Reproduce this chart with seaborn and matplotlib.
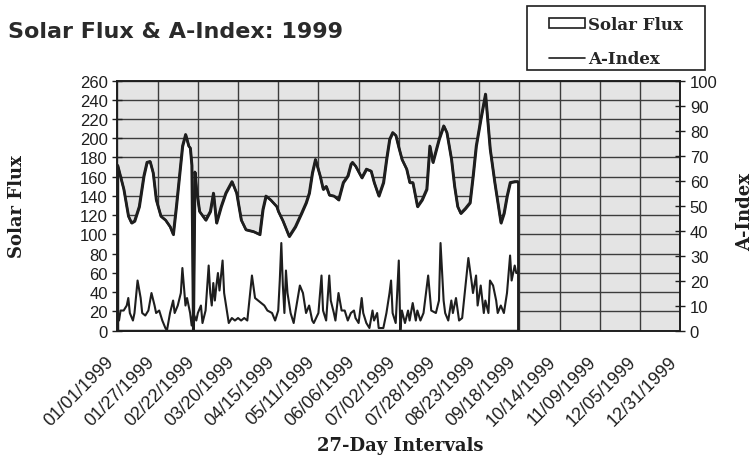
import numpy as np
import pandas as pd
import seaborn as sns
import matplotlib.pyplot as plt
from matplotlib.patches import Patch, Rectangle
from matplotlib.lines import Line2D

sns.set_style("white")
plt.rcParams['font.family'] = ['Liberation Sans', 'DejaVu Sans']

# days after 01/01/1999 and values
flux_day = [0, 4, 7, 9, 11, 14, 17, 19, 21, 23, 25, 28, 31, 34, 36, 38, 42, 44, 46,
            47, 48, 49, 50, 51, 53, 57, 60, 62, 64, 67, 70, 74, 77, 80, 83, 88, 92,
            94, 96, 99, 103, 104, 107, 111, 115, 119, 122, 124, 126, 128, 131, 133,
            135, 137, 140, 143, 146, 149, 151, 152, 154, 158, 161, 164, 166, 169,
            172, 174, 176, 178, 180, 182, 184, 187, 189, 191, 194, 197, 200, 202,
            204, 208, 211, 213, 216, 218, 220, 222, 225, 228, 230, 232, 235, 238,
            239, 241, 244, 246, 248, 250, 252, 254, 257, 259]
flux_val = [172, 147, 119, 112, 114, 129, 161, 175, 176, 164, 136, 119, 115, 108, 100,
            129, 192, 204, 192, 190, 172, 0, 165, 147, 124, 115, 124, 143, 112, 129,
            143, 155, 143, 115, 105, 103, 100, 126, 140, 136, 129, 124, 114, 98, 108,
            122, 133, 143, 164, 178, 161, 147, 150, 141, 140, 136, 154, 161, 173, 175,
            171, 159, 168, 166, 154, 140, 154, 178, 199, 206, 203, 190, 178, 168, 154,
            154, 129, 136, 147, 192, 175, 199, 213, 206, 178, 150, 129, 122, 127, 133,
            161, 192, 220, 246, 227, 189, 154, 133, 112, 122, 140, 154, 155, 155]

aidx_day = [0, 1, 2, 4, 6, 7, 8, 10, 11, 13, 15, 16, 18, 20, 22, 24, 25, 27, 29, 31,
            32, 34, 36, 37, 39, 41, 42, 44, 45, 47, 48, 49, 51, 52, 54, 55, 57, 59,
            60, 61, 62, 63, 64, 65, 66, 68, 69, 71, 72, 74, 76, 78, 80, 82, 84, 87,
            89, 91, 93, 95, 97, 100, 102, 104, 105, 106, 107, 108, 109, 110, 112,
            114, 115, 118, 120, 122, 124, 126, 127, 130, 132, 133, 135, 137, 138,
            140, 141, 143, 145, 147, 149, 151, 153, 154, 156, 158, 159, 161, 163,
            165, 166, 168, 169, 172, 174, 176, 177, 178, 180, 182, 183, 184, 186,
            188, 189, 191, 193, 194, 196, 198, 201, 203, 206, 208, 209, 211, 212,
            214, 216, 217, 219, 221, 223, 224, 226, 227, 229, 230, 232, 233, 235,
            237, 238, 240, 241, 243, 245, 246, 248, 250, 252, 254, 255, 257, 258, 259]
aidx_val = [7, 4, 8, 8, 10, 13, 7, 4, 7, 20, 13, 7, 6, 8, 15, 10, 7, 8, 4, 1,
            0, 7, 12, 7, 10, 15, 25, 10, 13, 7, 2, 7, 4, 7, 10, 3, 8, 26,
            15, 10, 19, 12, 18, 23, 16, 28, 15, 7, 3, 5, 4, 5, 4, 5, 4, 22,
            13, 12, 11, 10, 8, 7, 4, 8, 20, 35, 18, 7, 24, 15, 7,
            3, 7, 18, 15, 7, 10, 4, 3, 7, 22, 8, 4, 22, 12,
            7, 4, 15, 8, 8, 4, 7, 8, 5, 3, 13, 7, 3, 1,
            8, 4, 7, 1, 1, 7, 15, 20, 7, 3, 28, 0, 8, 3,
            8, 4, 11, 4, 8, 4, 7, 22, 8, 7, 12, 35, 12, 7,
            4, 12, 7, 13, 4, 5, 11, 23, 29, 20, 15, 22, 10, 18,
            7, 12, 7, 20, 18, 12, 7, 10, 7, 15, 30, 20, 26, 23, 23]

tick_labels = ["01/01/1999", "01/27/1999", "02/22/1999", "03/20/1999", "04/15/1999",
               "05/11/1999", "06/06/1999", "07/02/1999", "07/28/1999", "08/23/1999",
               "09/18/1999", "10/14/1999", "11/09/1999", "12/05/1999", "12/31/1999"]

start = pd.Timestamp("1999-01-01")
flux = pd.DataFrame({"date": start + pd.to_timedelta(flux_day, unit="D"), "flux": flux_val})
aidx = pd.DataFrame({"date": start + pd.to_timedelta(aidx_day, unit="D"), "aidx": aidx_val})
ticks = pd.to_datetime(tick_labels, format="%m/%d/%Y")

ink = "#1e1e1e"
serif = dict(family="DejaVu Serif", weight="bold", color=ink)

fig = plt.figure(figsize=(7.54, 4.6), dpi=100)
ax = fig.add_axes([0.1558, 0.2793, 0.7462, 0.5435])
ax.set_facecolor("#e4e4e4")
ax.set_axisbelow(True)
ax.grid(True, color="#3c3c3c", lw=1.0)

ax.fill_between(flux["date"], flux["flux"], 0, facecolor="white", edgecolor=ink, lw=1.8, zorder=2)
sns.lineplot(data=flux, x="date", y="flux", ax=ax, color=ink, lw=1.8, zorder=3)

ax2 = ax.twinx()
sns.lineplot(data=aidx, x="date", y="aidx", ax=ax2, color=ink, lw=1.5, zorder=4)

ax.set_xlim(ticks[0], ticks[-1])
ax.set_ylim(0, 260)
ax2.set_ylim(0, 100)
ax.set_yticks(np.arange(0, 261, 20))
ax2.set_yticks(np.arange(0, 101, 10))
ax.set_xticks(ticks)
ax.set_xticklabels(tick_labels, rotation=45, ha="right", va="bottom", rotation_mode="anchor")

for a in (ax, ax2):
    for s in a.spines.values():
        s.set_color(ink)
        s.set_linewidth(1.2)
ax.tick_params(axis="both", direction="inout", length=7, width=1, color=ink,
               labelsize=12, labelcolor=ink)
ax.tick_params(axis="x", pad=21, labelsize=13)
ax2.tick_params(axis="y", direction="inout", length=7, width=1, color=ink,
                labelsize=12, labelcolor=ink)

ax.set_xlabel("27-Day Intervals", fontsize=13, va="center", **serif)
ax.set_ylabel("Solar Flux", fontsize=13, va="center", **serif)
ax2.set_ylabel("A-Index", fontsize=13, va="center", **serif)
ax.xaxis.set_label_coords(0.502, -0.458)
ax.yaxis.set_label_coords(-0.179, 0.5)
ax2.yaxis.set_label_coords(1.1156, 0.48)

fig.text(0.011, 0.93, "Solar Flux & A-Index: 1999", fontsize=16, weight="heavy",
         family="DejaVu Sans", color="#2a2a2a", va="center")

# legend box drawn separately so the padding can match
fig.patches.append(Rectangle((527 / 754, 1 - 71 / 460), 178 / 754, 64 / 460,
                             transform=fig.transFigure, facecolor="white",
                             edgecolor=ink, lw=1.2, zorder=0))
handles = [Patch(facecolor="white", edgecolor=ink, lw=1.2), Line2D([], [], color=ink, lw=1.2)]
fig.legend(handles, ["Solar Flux", "A-Index"], loc="upper left",
           bbox_to_anchor=(549 / 754, 1 - 17 / 460), frameon=False,
           handlelength=2.15, handleheight=0.6, handletextpad=0.2,
           labelspacing=1.05, borderpad=0, borderaxespad=0,
           prop=dict(family="DejaVu Serif", weight="bold", size=12))

fig.savefig("out.png", dpi=100)
